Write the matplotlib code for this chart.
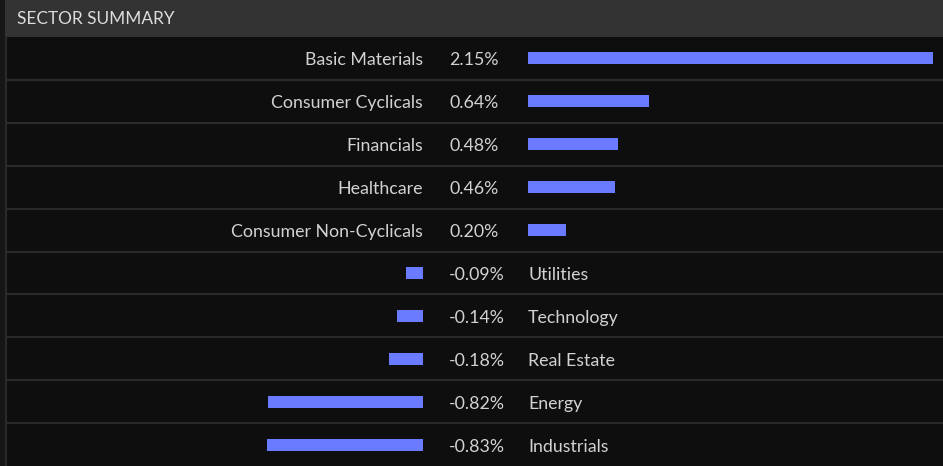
import matplotlib
matplotlib.use("Agg")
import matplotlib.pyplot as plt
from matplotlib.patches import Rectangle

sectors = ["Basic Materials", "Consumer Cyclicals", "Financials", "Healthcare",
           "Consumer Non-Cyclicals", "Utilities", "Technology", "Real Estate",
           "Energy", "Industrials"]
changes = [2.15, 0.64, 0.48, 0.46, 0.20, -0.09, -0.14, -0.18, -0.82, -0.83]
title = "SECTOR SUMMARY"

W, H = 943, 466
BG = "#0e0e0e"
HEADER = "#333333"
GRID = "#2a2a2a"
BAR = "#6b7bff"
TXT = "#d2d2d2"
FONT = ["Lato", "DejaVu Sans"]
FS = 12.8

fig = plt.figure(figsize=(W / 100, H / 100), dpi=100)
fig.patch.set_facecolor(BG)

def fx(px):
    return px / W

def fy(py):
    return 1 - py / H

header_h = 37
n = len(sectors)
row_h = (H - header_h) / n
PXPCT = 188.5  # pixels per percentage point

# background elements
fig.patches.append(Rectangle((0, 0), fx(5), 1, transform=fig.transFigure,
                             facecolor="#161616", edgecolor="none", zorder=0))
fig.patches.append(Rectangle((fx(5), fy(header_h)), 1, header_h / H,
                             transform=fig.transFigure, facecolor=HEADER,
                             edgecolor="none", zorder=0))
fig.lines.append(plt.Line2D([fx(5.5), fx(5.5)], [0, fy(header_h)],
                            transform=fig.transFigure, color=GRID, lw=1.5))
for i in range(1, n):
    y = fy(header_h + i * row_h)
    fig.lines.append(plt.Line2D([fx(6), 1], [y, y], transform=fig.transFigure,
                                color=GRID, lw=1.5))

fig.text(fx(17), fy(header_h / 2 + 1), title, color="#dcdcdc", fontsize=12.4,
         family=FONT, va="center", ha="left")

body_bottom = 0
body_height = (H - header_h) / H

# positive axis
pos_left = 528
axp = fig.add_axes([fx(pos_left), body_bottom, fx(W - pos_left), body_height])
# negative axis
neg_right = 423
neg_left = 6
axn = fig.add_axes([fx(neg_left), body_bottom, fx(neg_right - neg_left), body_height])

for ax in (axp, axn):
    ax.set_facecolor("none")
    ax.set_ylim(n - 0.5, -0.5)
    ax.axis("off")
axp.set_xlim(0, (W - pos_left) / PXPCT)
axn.set_xlim(-(neg_right - neg_left) / PXPCT, 0)

ypos = list(range(n))
bh = 12 / row_h
for y, s, c in zip(ypos, sectors, changes):
    if c >= 0:
        axp.barh(y, c, height=bh, color=BAR, left=0)
    else:
        axn.barh(y, c, height=bh, color=BAR, left=0)
    yc = fy(header_h + (y + 0.5) * row_h + 2)
    fig.text(fx(449), yc, f"{c:.2f}%", color=TXT, fontsize=FS, family=FONT,
             va="center", ha="left")
    if c >= 0:
        fig.text(fx(423), yc, s, color=TXT, fontsize=FS, family=FONT,
                 va="center", ha="right")
    else:
        fig.text(fx(528), yc, s, color=TXT, fontsize=FS, family=FONT,
                 va="center", ha="left")

fig.savefig("out.png", dpi=100, facecolor=BG)
